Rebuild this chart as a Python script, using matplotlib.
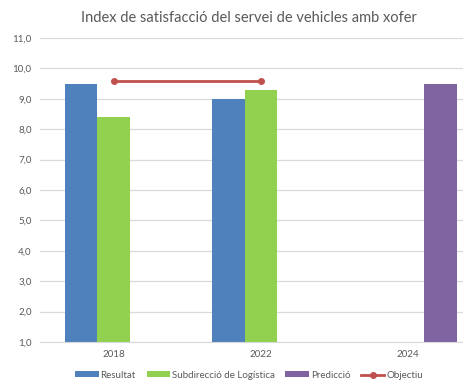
import numpy as np
import matplotlib
matplotlib.use("Agg")
import matplotlib.pyplot as plt

years = ["2018", "2022", "2024"]
resultat = [9.5, 9.0, np.nan]
logistica = [8.4, 9.3, np.nan]
prediccio = [np.nan, np.nan, 9.5]
objectiu = [9.6, 9.6, np.nan]

plt.rcParams['font.family'] = ['Lato', 'DejaVu Sans']
grey = "#595959"

fig = plt.figure(figsize=(4.63, 3.82), dpi=100)
ax = fig.add_axes([0.0864, 0.1047, 1 - 0.0864, 0.7958])

x = np.arange(len(years))
w = 0.22
b1 = ax.bar(x - w, resultat, w, color="#4F81BD", label="Resultat", zorder=2)
b2 = ax.bar(x, logistica, w, color="#92D050", label="Subdirecció de Logística", zorder=2)
b3 = ax.bar(x + w, prediccio, w, color="#8064A2", label="Predicció", zorder=2)
l1, = ax.plot(x, objectiu, color="#C0504D", lw=2, marker="o", ms=4, label="Objectiu", zorder=3)

ax.set_ylim(1, 11)
ax.set_yticks(np.arange(1, 11.1, 1))
ax.set_yticklabels([f"{v:.1f}".replace(".", ",") for v in np.arange(1, 11.1, 1)])
ax.set_xlim(-0.5, 2.373)
ax.set_xticks(x)
ax.set_xticklabels(years)
ax.tick_params(length=0, labelsize=7, colors=grey, pad=6)
ax.grid(axis="y", color="#d9d9d9", lw=0.9, zorder=0)
for s in ["top", "right", "left"]:
    ax.spines[s].set_visible(False)
ax.spines["bottom"].set_color("#d9d9d9")

fig.text(0.537, 0.952, "Index de satisfacció del servei de vehicles amb xofer",
         ha="center", va="center", fontsize=10.5, color=grey)

fig.legend(handles=[b1, b2, b3, l1], loc="center", bbox_to_anchor=(0.538, 0.018),
           ncol=4, frameon=False, fontsize=7, labelcolor=grey, handlelength=2.4,
           handleheight=0.5, columnspacing=1.1, handletextpad=0.2)

fig.savefig("out.png", dpi=100)
